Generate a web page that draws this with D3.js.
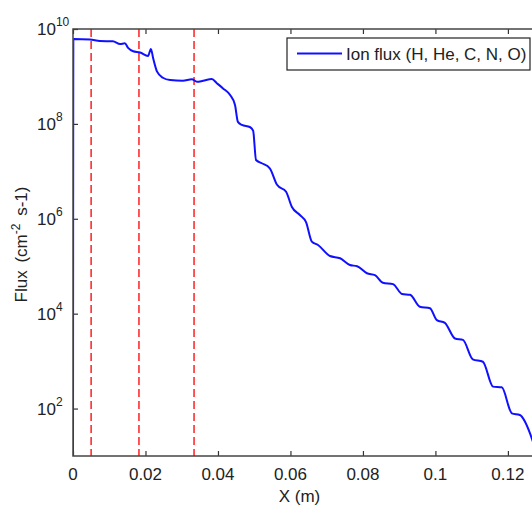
<!DOCTYPE html>
<html>
<head>
<meta charset="utf-8">
<script src="https://cdn.jsdelivr.net/npm/d3@7"></script>
<style>
  body { margin: 0; background: #fff; }
  svg { display: block; font-family: "Liberation Sans", Arial, sans-serif; }
</style>
</head>
<body>
<div id="chart"></div>
<script>
// ion flux along X (m)
const xPos = [0, 0.0001, 0.0047, 0.0074, 0.011, 0.013, 0.0143, 0.0152, 0.0166, 0.0185,
    0.0207, 0.0215, 0.0221, 0.0232, 0.0248, 0.0268, 0.0303, 0.0328, 0.0342, 0.0359,
    0.0383, 0.0397, 0.0414, 0.0433, 0.0447, 0.0455, 0.0466, 0.0488, 0.0497, 0.0505,
    0.0521, 0.0543, 0.0563, 0.0588, 0.0604, 0.0626, 0.0643, 0.0659, 0.0676, 0.0709,
    0.0737, 0.0764, 0.0784, 0.0811, 0.0833, 0.0855, 0.0883, 0.0908, 0.0930, 0.0957,
    0.0985, 0.1004, 0.1026, 0.1054, 0.1076, 0.1103, 0.1131, 0.1159, 0.1183, 0.1211,
    0.1233, 0.1261, 0.1269];
const flux = [10, 6.15e9, 6.0e9, 5.6e9, 5.5e9, 4.8e9, 5.0e9, 4.0e9, 3.4e9, 3.2e9,
    2.7e9, 3.8e9, 2.45e9, 1.26e9, 9.4e8, 8.4e8, 8.1e8, 8.7e8, 7.7e8, 8.1e8,
    8.8e8, 7.2e8, 5.6e8, 4.1e8, 2.5e8, 1.1e8, 9.5e7, 8.6e7, 7.2e7, 1.73e7,
    1.48e7, 1.16e7, 5.2e6, 3.7e6, 1.77e6, 1.2e6, 8.5e5, 3.3e5, 2.8e5, 1.64e5,
    1.47e5, 1.06e5, 1.0e5, 7.1e4, 6.5e4, 4.5e4, 4.2e4, 2.6e4, 2.5e4, 1.4e4,
    1.3e4, 7.3e3, 6.4e3, 3.0e3, 2.8e3, 1.09e3, 970, 290, 280, 79,
    73, 30, 20];
const boundaries = [0.005, 0.0182, 0.0334];
const xTicks = [0, 0.02, 0.04, 0.06, 0.08, 0.1, 0.12];
const yTickExps = [2, 4, 6, 8, 10];
const legendLabel = "Ion flux (H, He, C, N, O)";

const W = 532, H = 507;
const m = {left: 73, top: 29, right: 534, bottom: 456};

const svg = d3.select("#chart").append("svg")
    .attr("width", W)
    .attr("height", H);

const x = d3.scaleLinear().domain([0, 0.1272]).range([m.left, m.right]);
const y = d3.scaleLog().domain([10, 1e10]).range([m.bottom, m.top]);

// red dashed boundaries
svg.append("g").selectAll("line")
    .data(boundaries)
    .join("line")
    .attr("x1", d => x(d)).attr("x2", d => x(d))
    .attr("y1", m.top).attr("y2", m.bottom)
    .attr("stroke", "#ff2020")
    .attr("stroke-width", 1.5)
    .attr("stroke-dasharray", "8,4");

// flux curve
const line = d3.line()
    .x((d, i) => x(xPos[i]))
    .y(d => y(d))
    .curve(d3.curveMonotoneX);

svg.append("defs").append("clipPath").attr("id", "clip")
    .append("rect").attr("x", m.left).attr("y", m.top)
    .attr("width", m.right - m.left).attr("height", m.bottom - m.top);

svg.append("path")
    .datum(flux)
    .attr("clip-path", "url(#clip)")
    .attr("d", line)
    .attr("fill", "none")
    .attr("stroke", "#1010ff")
    .attr("stroke-width", 2);

// axes (MATLAB style, ticks inward, box)
const tickLen = 5;
const axes = svg.append("g").attr("class", "axis");

axes.append("g")
    .attr("transform", `translate(0,${m.bottom})`)
    .call(d3.axisTop(x).tickValues(xTicks).tickSize(tickLen).tickFormat(""));
axes.append("g")
    .attr("transform", `translate(0,${m.top})`)
    .call(d3.axisBottom(x).tickValues(xTicks).tickSize(tickLen).tickFormat(""));
axes.append("g")
    .attr("transform", `translate(${m.left},0)`)
    .call(d3.axisRight(y).tickValues(yTickExps.map(e => Math.pow(10, e))).tickSize(tickLen).tickFormat(""));
axes.selectAll("path.domain").remove();
axes.selectAll("line").attr("stroke", "#333").attr("stroke-width", 1.2);

svg.append("rect")
    .attr("x", m.left).attr("y", m.top)
    .attr("width", m.right - m.left).attr("height", m.bottom - m.top)
    .attr("fill", "none")
    .attr("stroke", "#444")
    .attr("stroke-width", 1.5);

// x tick labels
svg.append("g").selectAll("text")
    .data(xTicks)
    .join("text")
    .attr("x", d => x(d))
    .attr("y", 480)
    .attr("text-anchor", "middle")
    .attr("font-size", 17)
    .attr("fill", "#222")
    .text(d => d3.format("~g")(d));

// y tick labels 10^n
const yl = svg.append("g").selectAll("text")
    .data(yTickExps)
    .join("text")
    .attr("y", d => y(Math.pow(10, d)) + 6)
    .attr("font-size", 17)
    .attr("fill", "#222");
yl.append("tspan").attr("x", 37).text("10");
yl.append("tspan").attr("dy", -9).attr("font-size", 12).text(d => d);

// axis titles
svg.append("text")
    .attr("x", (m.left + m.right) / 2 - 4)
    .attr("y", 502)
    .attr("text-anchor", "middle")
    .attr("font-size", 17)
    .attr("fill", "#222")
    .text("X (m)");

const yt = svg.append("text")
    .attr("transform", `translate(27,${(m.top + m.bottom) / 2 + 2}) rotate(-90)`)
    .attr("text-anchor", "middle")
    .attr("font-size", 17)
    .attr("fill", "#222")
    .attr("word-spacing", 3);
yt.append("tspan").text("Flux (cm");
yt.append("tspan").attr("dy", -7).attr("font-size", 12).text("-2");
yt.append("tspan").attr("dy", 7).text(" s-1)");

// legend
const lg = svg.append("g").attr("transform", "translate(287,38)");
lg.append("rect")
    .attr("width", 243).attr("height", 32)
    .attr("fill", "#fff")
    .attr("stroke", "#222")
    .attr("stroke-width", 1.2);
lg.append("line")
    .attr("x1", 10).attr("x2", 55)
    .attr("y1", 15.5).attr("y2", 15.5)
    .attr("stroke", "#1010ff")
    .attr("stroke-width", 2);
lg.append("text")
    .attr("x", 59).attr("y", 22)
    .attr("font-size", 17)
    .attr("fill", "#222")
    .text(legendLabel);
</script>
</body>
</html>
